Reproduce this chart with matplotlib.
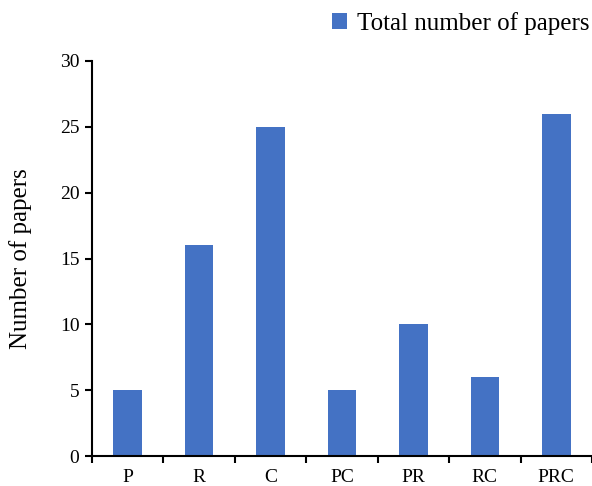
import matplotlib
matplotlib.use("Agg")
import matplotlib.pyplot as plt
import numpy as np

categorias = ["P", "R", "C", "PC", "PR", "RC", "PRC"]
total_papers = [5, 16, 25, 5, 10, 6, 26]
y_ticks = [0, 5, 10, 15, 20, 25, 30]

plt.rcParams['font.family'] = ['Liberation Serif', 'DejaVu Serif']

fig = plt.figure(figsize=(5.92, 4.86), dpi=100)
ax = fig.add_axes([0.1554, 0.0617, 0.8446, 0.8128])

x = np.arange(len(categorias))
ax.bar(x, total_papers, width=0.4, color='#4472C4', label='Total number of papers')

ax.set_xlim(-0.5, len(categorias) - 0.5)
ax.set_ylim(0, 30)
ax.set_yticks(y_ticks)
ax.tick_params(axis='y', labelsize=14, length=5, width=1.5, direction='out', pad=4)

# rótulos centrados, marcas entre categorias
ax.set_xticks(x)
ax.set_xticklabels(categorias)
ax.set_xticks(np.arange(len(categorias) + 1) - 0.5, minor=True)
ax.tick_params(axis='x', which='major', length=0, labelsize=14, pad=9)
ax.tick_params(axis='x', which='minor', length=5, width=1.5, direction='out')

for lado in ['top', 'right']:
    ax.spines[lado].set_visible(False)
for lado in ['left', 'bottom']:
    ax.spines[lado].set_linewidth(1.5)

ax.set_ylabel('Number of papers', fontsize=18, labelpad=20)

fig.legend(loc='upper right', bbox_to_anchor=(1.0, 0.98), frameon=False,
           fontsize=18, handlelength=0.6, handleheight=0.6, handletextpad=0.4,
           borderaxespad=0.0, borderpad=0.1)

fig.savefig('out.png', dpi=100)
